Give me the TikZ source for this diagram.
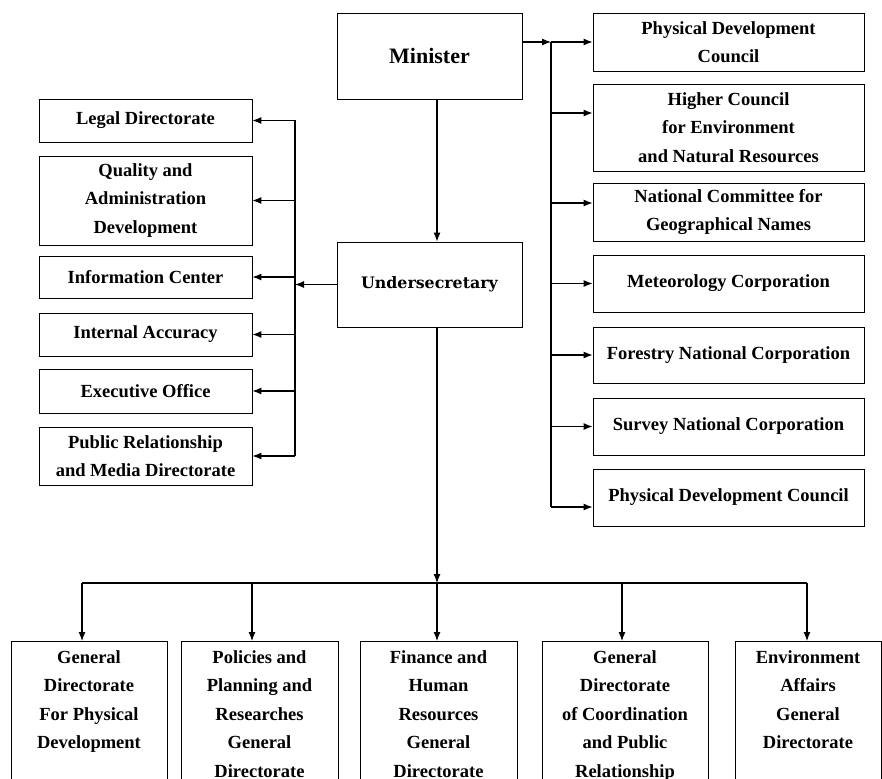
\documentclass[tikz,border=0pt]{standalone}
\usepackage{fontspec}
\setmainfont{Liberation Serif}
\newfontfamily\undfont{DejaVu Serif}
\usetikzlibrary{arrows.meta}

\tikzset{
  unit/.style={draw, line width=0.8pt, align=flush center, inner sep=0pt,
    font=\bfseries\fontsize{18.5}{28.5}\selectfont},
  branch/.style={unit, anchor=north, text height=22pt, text depth=170pt},
  link/.style={line width=1.1pt, ->},
  bus/.style={line width=1.1pt},
}

\begin{document}
\begin{tikzpicture}[x=1pt, y=-1pt, >={Latex[length=9pt,width=7pt]}, line join=miter]
\useasboundingbox (0,0) rectangle (882,778);
\clip (0,0) rectangle (882,778);

% the two heads
\node[unit, minimum width=185, minimum height=86, font=\bfseries\fontsize{22}{26}\selectfont] (min) at (429.5,56) {Minister};
\node[unit, minimum width=185, minimum height=85, font=\undfont\bfseries\fontsize{15.8}{20}\selectfont] (und) at (429.5,284.5) {Undersecretary};

% left column
\foreach \n/\y/\h/\t in {legal/120.5/43/Legal Directorate,
    quality/200.5/89/{Quality and\\Administration\\Development},
    info/277/42/Information Center,
    internal/334.5/43/Internal Accuracy,
    exec/391/44/Executive Office,
    public/456/58/{Public Relationship\\and Media Directorate}}
  \node[unit, minimum width=213, minimum height=\h] (\n) at (145.5,\y) {\t};

% right column
\foreach \n/\y/\h/\t in {pdcA/42/58/{Physical Development\\Council},
    hc/127.5/87/{Higher Council\\for Environment\\and Natural Resources},
    ncg/212/58/{National Committee for\\Geographical Names},
    met/283.5/57/Meteorology Corporation,
    forest/355/56/Forestry National Corporation,
    survey/426.5/57/Survey National Corporation,
    pdcB/497.5/57/Physical Development Council}
  \node[unit, minimum width=271, minimum height=\h] (\n) at (728.5,\y) {\t};

% general directorates
\foreach \n/\x/\w/\t in {gdA/89/156/{General\\Directorate\\For Physical\\Development},
    gdB/259.5/157/{Policies and\\Planning and\\Researches\\General\\Directorate},
    gdC/438.5/157/{Finance and\\Human\\Resources\\General\\Directorate},
    gdD/625/166/{General\\Directorate\\of Coordination\\and Public\\Relationship},
    gdE/808/146/{Environment\\Affairs\\General\\Directorate}}
  \node[branch, text width=\w] (\n) at (\x,641) {\t};

% connectors
\coordinate (spine) at (437,0);
\coordinate (rtop) at (551,42);
\coordinate (ltop) at (295,0);
\draw[link] (min.south -| spine) -- (und.north -| spine);
\draw[link] (min.east |- pdcA.west) -- (rtop);
\draw[bus] (rtop) -- (rtop |- 0,507);
\foreach \n/\dy in {pdcA/0, hc/14.5, ncg/9, met/0, forest/0, survey/0, pdcB/-9.5}{
  \coordinate (t\n) at ([yshift=\dy pt]\n.west);
  \draw[link] (rtop |- t\n) -- (t\n);
}

\draw[link] (und.west) -- (und.west -| ltop);
\draw[bus] (ltop |- legal.east) -- (ltop |- public.east);
\foreach \n in {legal, quality, info, internal, exec, public}
  \draw[link] (ltop |- \n.east) -- (\n.east);

\coordinate (dA) at (82,583);
\coordinate (dB) at (252,583);
\coordinate (dC) at (437,583);
\coordinate (dD) at (622,583);
\coordinate (dE) at (807,583);
\draw[link] (und.south -| spine) -- (dC);
\draw[bus] (dA) -- (dE);
\foreach \d/\n in {dA/gdA, dB/gdB, dC/gdC, dD/gdD, dE/gdE}
  \draw[link] (\d) -- (\d |- \n.north);
\end{tikzpicture}
\end{document}
